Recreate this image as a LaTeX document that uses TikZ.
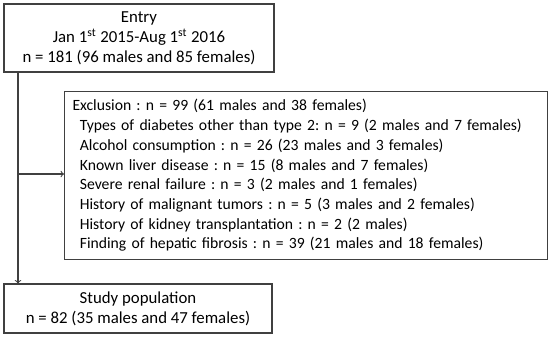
\documentclass[tikz,border=0pt]{standalone}
\usepackage{fontspec}
\setmainfont{Carlito}
\usepackage{tikz}
\frenchspacing

\tikzset{
  box/.style={draw=black!75, line width=0.8pt, rectangle, inner sep=0pt},
  flowtext/.style={font=\fontsize{12.6}{15}\selectfont},
  listtext/.style={font=\fontsize{11.75}{14.8}\selectfont},
}

\begin{document}
\begin{tikzpicture}[x=0.75pt, y=-0.75pt]
                \useasboundingbox (0,0) rectangle (550,336);
                % boxes
                \node[box, flowtext, align=center, minimum width=202.5pt, minimum height=51pt] (entry) at (139,38)
                  {Entry\\Jan 1\textsuperscript{st} 2015-Aug 1\textsuperscript{st} 2016\\n = 181 (96 males and 85 females)};
                \node[box, listtext, align=left, anchor=north west, text width=350pt, inner xsep=6pt, inner ysep=5pt, minimum height=126pt] (excl) at (64,91)
                  {Exclusion : n = 99 (61 males and 38 females)\\
                   \hspace*{5.5pt}Types of diabetes other than type 2: n = 9 (2 males and 7 females)\\
                   \hspace*{5.5pt}Alcohol consumption : n = 26 (23 males and 3 females)\\
                   \hspace*{5.5pt}Known liver disease : n = 15 (8 males and 7 females)\\
                   \hspace*{5.5pt}Severe renal failure : n = 3 (2 males and 1 females)\\
                   \hspace*{5.5pt}History of malignant tumors : n = 5 (3 males and 2 females)\\
                   \hspace*{5.5pt}History of kidney transplantation : n = 2 (2 males)\\
                   \hspace*{5.5pt}Finding of hepatic fibrosis : n = 39 (21 males and 18 females)};
                \node[box, flowtext, align=center, minimum width=201pt, minimum height=36.75pt] (study) at (138,308.5)
                  {Study population\\n = 82 (35 males and 47 females)};
                % connectors
                \coordinate (split) at (18,174);
                \draw[black!75, line width=0.8pt, ->] (entry.south -| split) -- (study.north -| split);
                \draw[black!75, line width=0.8pt, ->] (split) -- (excl.west |- split);
            \end{tikzpicture}
\end{document}
